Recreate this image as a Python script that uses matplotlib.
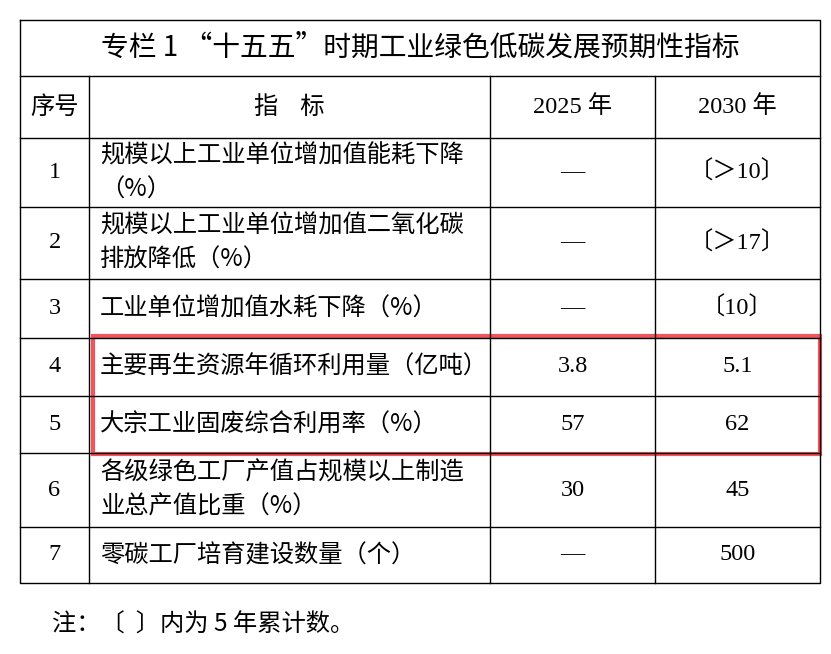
import matplotlib
matplotlib.use("Agg")
import matplotlib.pyplot as plt
from matplotlib.patches import Rectangle

plt.rcParams['font.family'] = ['Noto Sans CJK SC', 'DejaVu Sans']

title = "专栏 1 “十五五”时期工业绿色低碳发展预期性指标"
headers = ["序号", "指    标", "2025 年", "2030 年"]
numbers = ["1", "2", "3", "4", "5", "6", "7"]
indicators = [
    "规模以上工业单位增加值能耗下降\n（%）",
    "规模以上工业单位增加值二氧化碳\n排放降低（%）",
    "工业单位增加值水耗下降（%）",
    "主要再生资源年循环利用量（亿吨）",
    "大宗工业固废综合利用率（%）",
    "各级绿色工厂产值占规模以上制造\n业总产值比重（%）",
    "零碳工厂培育建设数量（个）",
]
values_2025 = ["—", "—", "—", "3.8", "57", "30", "—"]
values_2030 = ["〔＞10〕", "〔＞17〕", "〔10〕", "5.1", "62", "45", "500"]
note = "注：〔  〕内为 5 年累计数。"

# layout in pixels
col_x = [20, 89, 490, 655, 820]
row_y = [20, 76, 138, 207, 279, 338, 396, 453, 527, 583]

fig = plt.figure(figsize=(8.31, 6.54), dpi=100)
ax = fig.add_axes([0, 0, 1, 1])
ax.set_xlim(0, 831)
ax.set_ylim(654, 0)
ax.axis('off')

lw = 1.0
ax.plot([col_x[0], col_x[-1], col_x[-1], col_x[0], col_x[0]],
        [row_y[0], row_y[0], row_y[-1], row_y[-1], row_y[0]], color='black', lw=lw)
for y in row_y[1:-1]:
    ax.plot([col_x[0], col_x[-1]], [y, y], color='black', lw=lw)
for x in col_x[1:-1]:
    ax.plot([x, x], [row_y[1], row_y[-1]], color='black', lw=lw)

fs = 17.5
serif = ['Liberation Serif', 'Noto Sans CJK SC']
ax.text((col_x[0] + col_x[-1]) / 2, (row_y[0] + row_y[1]) / 2, title,
        ha='center', va='center', fontsize=20)
for i, h in enumerate(headers):
    fam = serif if i >= 2 else ['Noto Sans CJK SC', 'DejaVu Sans']
    ax.text((col_x[i] + col_x[i + 1]) / 2, (row_y[1] + row_y[2]) / 2, h,
            ha='center', va='center', fontsize=fs, family=fam)

for r in range(len(numbers)):
    yc = (row_y[r + 2] + row_y[r + 3]) / 2
    ax.text((col_x[0] + col_x[1]) / 2, yc, numbers[r], ha='center', va='center',
            fontsize=fs, family=serif)
    ax.text(100, yc, indicators[r], ha='left', va='center', fontsize=fs,
            linespacing=1.4)
    ax.text((col_x[2] + col_x[3]) / 2, yc, values_2025[r], ha='center', va='center',
            fontsize=fs, family=serif)
    ax.text((col_x[3] + col_x[4]) / 2, yc, values_2030[r], ha='center', va='center',
            fontsize=fs, family=serif)

# highlight rows 4-5
ax.add_patch(Rectangle((93, 336), 727, 118, fill=False, edgecolor='#f0545c', lw=3))

ax.text(52, 625, note, ha='left', va='center', fontsize=fs)

fig.savefig("out.png", dpi=100)
